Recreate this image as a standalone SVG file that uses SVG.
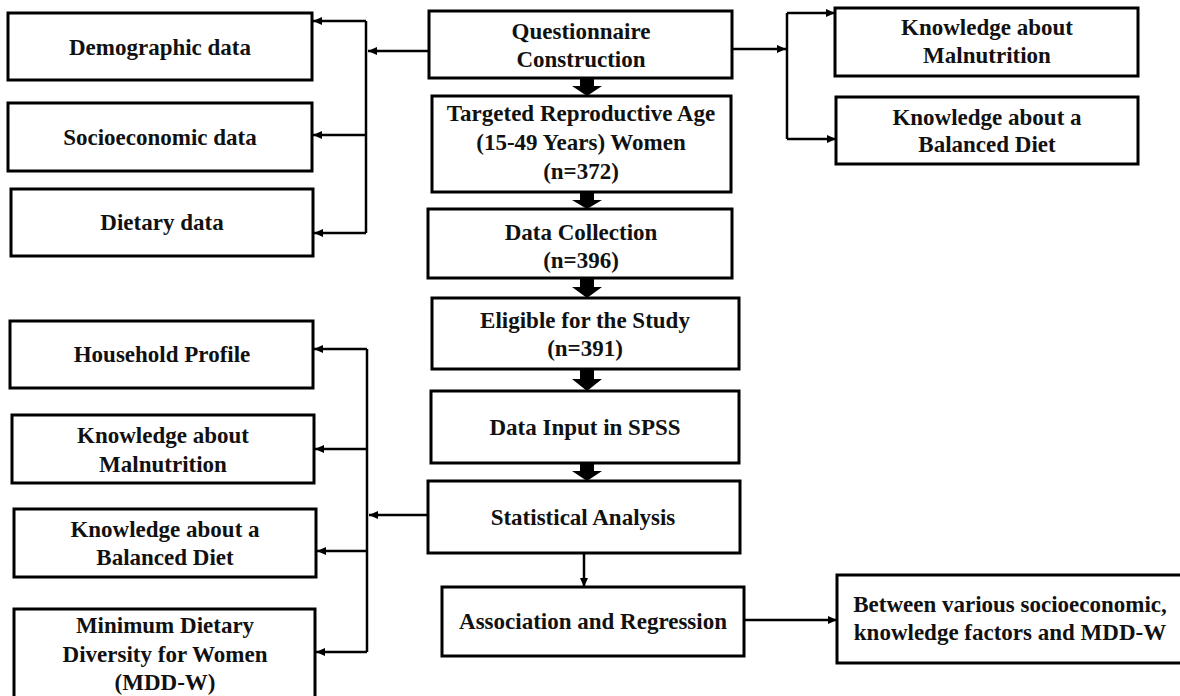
<svg xmlns="http://www.w3.org/2000/svg" width="1180" height="696" viewBox="0 0 1180 696">
<style>
.box{fill:#fff;stroke:#000;stroke-width:3}
.t{font-family:"Liberation Serif","Times New Roman",serif;font-weight:bold;font-size:23px;text-anchor:middle;fill:#111}
.ln{fill:none;stroke:#000;stroke-width:2.5}
.thick{fill:#000}
</style>
<defs>
<marker id="ah" markerWidth="10" markerHeight="10" refX="9" refY="5" orient="auto" markerUnits="userSpaceOnUse">
<path d="M0,1 L9,5 L0,9 Z" fill="#000"/>
</marker>
</defs>
<rect width="1180" height="696" fill="#fff"/>
<g id="connectors">
<path class="ln" d="M429,51 H368" marker-end="url(#ah)"/>
<path class="ln" d="M366,21 V233"/>
<path class="ln" d="M366,21 H313" marker-end="url(#ah)"/>
<path class="ln" d="M366,135 H313" marker-end="url(#ah)"/>
<path class="ln" d="M366,233 H314" marker-end="url(#ah)"/>
<path class="ln" d="M732,49 H786" marker-end="url(#ah)"/>
<path class="ln" d="M787,13 V139"/>
<path class="ln" d="M787,13 H835" marker-end="url(#ah)"/>
<path class="ln" d="M787,139 H836" marker-end="url(#ah)"/>
<path class="ln" d="M428,515 H369" marker-end="url(#ah)"/>
<path class="ln" d="M367,349 V652"/>
<path class="ln" d="M367,349 H314" marker-end="url(#ah)"/>
<path class="ln" d="M367,449 H315" marker-end="url(#ah)"/>
<path class="ln" d="M367,551 H317" marker-end="url(#ah)"/>
<path class="ln" d="M367,652 H316" marker-end="url(#ah)"/>
<path class="ln" d="M584,553 V587" marker-end="url(#ah)"/>
<path class="ln" d="M744,620 V620 H837" marker-end="url(#ah)"/>
<polygon class="thick" points="580,78 594,78 594,86 602,86 587,96 572,86 580,86"/>
<polygon class="thick" points="580,192 594,192 594,200 602,200 587,209 572,200 580,200"/>
<polygon class="thick" points="580,278 594,278 594,287 602,287 587,298 572,287 580,287"/>
<polygon class="thick" points="580,369 594,369 594,379 602,379 587,391 572,379 580,379"/>
<polygon class="thick" points="580,463 594,463 594,471 602,471 587,481 572,471 580,471"/>
</g>
<g id="questionnaire"><rect class="box" x="429" y="11" width="303" height="67"/><text class="t" x="581" y="39">Questionnaire</text><text class="t" x="581" y="67">Construction</text></g>
<g id="targeted"><rect class="box" x="432" y="96" width="299" height="96"/><text class="t" x="581" y="121">Targeted Reproductive Age</text><text class="t" x="581" y="150">(15-49 Years) Women</text><text class="t" x="581" y="179">(n=372)</text></g>
<g id="collection"><rect class="box" x="428" y="209" width="304" height="69"/><text class="t" x="581" y="240">Data Collection</text><text class="t" x="581" y="268">(n=396)</text></g>
<g id="eligible"><rect class="box" x="432" y="298" width="307" height="71"/><text class="t" x="585" y="328">Eligible for the Study</text><text class="t" x="585" y="356">(n=391)</text></g>
<g id="input"><rect class="box" x="431" y="391" width="308" height="72"/><text class="t" x="585" y="435">Data Input in SPSS</text></g>
<g id="statistical"><rect class="box" x="428" y="481" width="312" height="72"/><text class="t" x="583" y="525">Statistical Analysis</text></g>
<g id="association"><rect class="box" x="442" y="587" width="302" height="69"/><text class="t" x="593" y="629">Association and Regression</text></g>
<g id="between"><rect class="box" x="837" y="575" width="350" height="88"/><text class="t" x="1010" y="612">Between various socioeconomic,</text><text class="t" x="1010" y="640">knowledge factors and MDD-W</text></g>
<g id="demographic"><rect class="box" x="8" y="13" width="304" height="67"/><text class="t" x="160" y="55">Demographic data</text></g>
<g id="socioeconomic"><rect class="box" x="8" y="103" width="304" height="68"/><text class="t" x="160" y="145">Socioeconomic data</text></g>
<g id="dietary"><rect class="box" x="11" y="189" width="302" height="67"/><text class="t" x="162" y="230">Dietary data</text></g>
<g id="household"><rect class="box" x="10" y="321" width="303" height="67"/><text class="t" x="162" y="362">Household Profile</text></g>
<g id="malnutrition-left"><rect class="box" x="12" y="415" width="302" height="68"/><text class="t" x="163" y="443">Knowledge about</text><text class="t" x="163" y="472">Malnutrition</text></g>
<g id="balanced-left"><rect class="box" x="14" y="509" width="302" height="68"/><text class="t" x="165" y="537">Knowledge about a</text><text class="t" x="165" y="565">Balanced Diet</text></g>
<g id="mddw"><rect class="box" x="14" y="609" width="301" height="95"/><text class="t" x="165" y="633">Minimum Dietary</text><text class="t" x="165" y="662">Diversity for Women</text><text class="t" x="165" y="690">(MDD-W)</text></g>
<g id="malnutrition-right"><rect class="box" x="835" y="8" width="303" height="68"/><text class="t" x="987" y="35">Knowledge about</text><text class="t" x="987" y="63">Malnutrition</text></g>
<g id="balanced-right"><rect class="box" x="836" y="97" width="302" height="67"/><text class="t" x="987" y="125">Knowledge about a</text><text class="t" x="987" y="152">Balanced Diet</text></g>
</svg>
